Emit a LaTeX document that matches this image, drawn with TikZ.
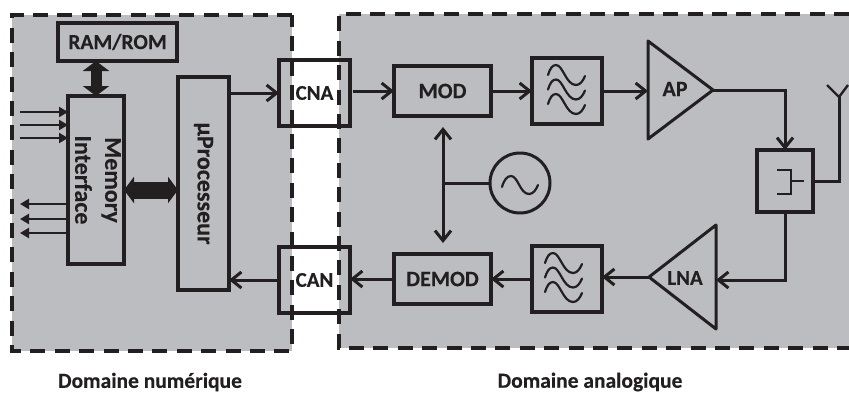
\documentclass[tikz,border=0pt]{standalone}
\usepackage{fontspec}
\usepackage{graphicx}
\setmainfont{Carlito}[BoldFont={Carlito Bold},BoldFeatures={FakeBold=0.3}]
\usetikzlibrary{arrows.meta}
\definecolor{ink}{HTML}{231F20}
\definecolor{zone}{HTML}{BCBDC0}
\tikzset{
  box/.style={draw=ink,line width=3.3pt,inner sep=0pt,outer sep=0pt,font=\fontsize{22}{24}\selectfont\bfseries,text=ink,align=center},
  flow/.style={draw=ink,line width=3pt,-{Straight Barb[length=10pt,width=16pt,line width=3pt]}},
  wire/.style={draw=ink,line width=3pt},
  thin arrow/.style={draw=ink,line width=2.6pt,-{Triangle[length=9pt,width=10pt]}},
  bus/.style={draw=ink,{Triangle[length=10pt,width=26pt]}-{Triangle[length=10pt,width=26pt]}},
  border/.style={draw=ink,line width=3.2pt,dash pattern=on 15pt off 9.4pt},
  zonefill/.style={fill=zone,draw=none},
  wave/.style={draw=ink,line width=2.2pt,line cap=round},
  caption/.style={font=\fontsize{21.5}{24}\selectfont\bfseries,text=ink},
  tri/.style={draw=ink,line width=3pt,line join=round},
  trilabel/.style={font=\fontsize{22}{24}\selectfont\bfseries,text=ink,inner sep=0pt},
  pics/filterwaves/.style={code={
    \foreach \dy in {0,14.5,29}{
      \draw[wave] (0,\dy) .. controls (2,\dy-6) and (4,\dy-10) .. (8,\dy-10)
        .. controls (15,\dy-10) and (18,\dy+10) .. (28,\dy+10)
        .. controls (32,\dy+10) and (35,\dy+6) .. (37,\dy+1);
    }}}
}
\begin{document}
\begin{tikzpicture}[x=1pt,y=-1pt]
\useasboundingbox (0,0) rectangle (849,392);
% zones
\fill[zonefill] (12,15) rectangle (292,351);
\fill[zonefill] (339,14) rectangle (849,348);
% boxes
\node[box,minimum width=119pt,minimum height=38pt,font=\fontsize{21.5}{24}\selectfont\bfseries] (ram) at (117.5,42) {RAM/ROM};
\node[box,minimum width=56pt,minimum height=168pt,font=\fontsize{24}{29}\selectfont\bfseries] (mem) at (96,180) {\makebox[0pt]{\rotatebox{-90}{\begin{tabular}{@{}c@{}}Memory\\[1pt]Interface\end{tabular}}}};
\node[box,minimum width=51pt,minimum height=213pt,font=\fontsize{24}{26}\selectfont\bfseries] (proc) at (203.5,183.5) {\rotatebox{-90}{µProcesseur}};
\node[box,minimum width=71pt,minimum height=66pt,font=\fontsize{21}{24}\selectfont\bfseries] (cna) at (314.5,93) {CNA};
\node[box,minimum width=71pt,minimum height=66pt,font=\fontsize{21}{24}\selectfont\bfseries] (can) at (314.5,280) {CAN};
\node[box,minimum width=97pt,minimum height=50pt] (mod) at (442.5,91) {MOD};
\node[box,minimum width=97pt,minimum height=50pt] (demod) at (442.5,279) {DEMOD};
\node[box,minimum width=70pt,minimum height=66pt] (fil1) at (567,91) {};
\node[box,minimum width=70pt,minimum height=66pt] (fil2) at (567,279) {};
\node[box,minimum width=56pt,minimum height=62pt] (dup) at (785,181) {};
\node[draw=ink,line width=3pt,circle,minimum size=60pt,inner sep=0pt,outer sep=0pt] (osc) at (520,183) {};
% filter symbols
\pic at (548,75) {filterwaves};
\pic at (545,263) {filterwaves};
% oscillator symbol
\draw[wave] (502,187) .. controls (504,180) and (507,176) .. (511,176)
  .. controls (518,176) and (520,194) .. (529,194) .. controls (533,194) and (536,190) .. (538,185);
% duplexer symbol
\draw[wave,line width=2.6pt,line cap=butt] (777,170) -- (791,170) -- (791,194) -- (777,194);
\draw[wave,line width=2.6pt,line cap=butt] (791,181) -- (804,181);
% amplifiers
\coordinate (apa) at (648,41); \coordinate (apb) at (648,139); \coordinate (aptip) at (713,90);
\coordinate (apin) at (648,90);
\draw[tri] (apa) -- (aptip) -- (apb) -- cycle;
\node[trilabel] (ap) at (675,89) {AP};
\coordinate (lnaa) at (716,225); \coordinate (lnab) at (716,329); \coordinate (lnatip) at (649,277);
\coordinate (lnain) at (716,280);
\draw[tri] (lnaa) -- (lnatip) -- (lnab) -- cycle;
\node[trilabel,font=\fontsize{21}{22}\selectfont\bfseries] (lna) at (685,278) {LNA};
% antenna
\coordinate (ant) at (839,97); \coordinate (antl) at (827,85); \coordinate (antr) at (848,85);
\draw[wire] (dup.east) -| (ant);
\draw[wire,line width=2.4pt] (antl) -- (ant) -- (antr);
% connectors
\draw[flow] (proc.east |- cna.west) -- (cna.west);
\draw[flow] (can.west) -- (can.west -| proc.east);
\draw[flow,shorten <=3pt] (mod.west -| cna.east) -- (mod.west);
\draw[flow] (mod.east) -- (fil1.west);
\draw[flow] (fil1.east) -- (fil1.east -| apin);
\draw[flow] (aptip) -| (dup.north);
\draw[flow] (dup.south) |- (lnain);
\draw[flow] (lnatip) -- (lnatip -| fil2.east);
\draw[flow] (fil2.west) -- (demod.east);
\draw[flow] (demod.west) -- (demod.west -| can.east);
\coordinate (lotop) at (443,127); \coordinate (lobot) at (443,243); \coordinate (lojoin) at (443,183);
\draw[flow,{Straight Barb[length=10pt,width=16pt,line width=3pt]}-{Straight Barb[length=10pt,width=16pt,line width=3pt]}] (lotop) -- (lobot);
\draw[wire] (lojoin) -- (osc.west);
% buses
\draw[bus,line width=11pt] (ram.south -| mem.north) -- (mem.north);
\draw[bus,line width=17pt] (mem.east |- 0,190) -- (proc.west |- 0,190);
% memory pins
\foreach \i/\y in {1/112,2/125,3/138}{
  \coordinate (in\i) at (20,\y);
  \draw[thin arrow] (in\i) -- (in\i -| mem.west);
}
\foreach \i/\y in {1/204,2/219,3/233}{
  \coordinate (out\i) at (20,\y);
  \draw[thin arrow] (out\i -| mem.west) -- (out\i);
}
% dashed borders
\draw[border] (292,15) -- (12,15) -- (12,351) -- (292,351) -- cycle;
\draw[border] (849,14) -- (339,14) -- (339,348) -- (849,348);
% captions
\node[caption] (numerique) at (150,382) {Domaine numérique};
\node[caption] (analogique) at (590,382) {Domaine analogique};
\end{tikzpicture}
\end{document}
